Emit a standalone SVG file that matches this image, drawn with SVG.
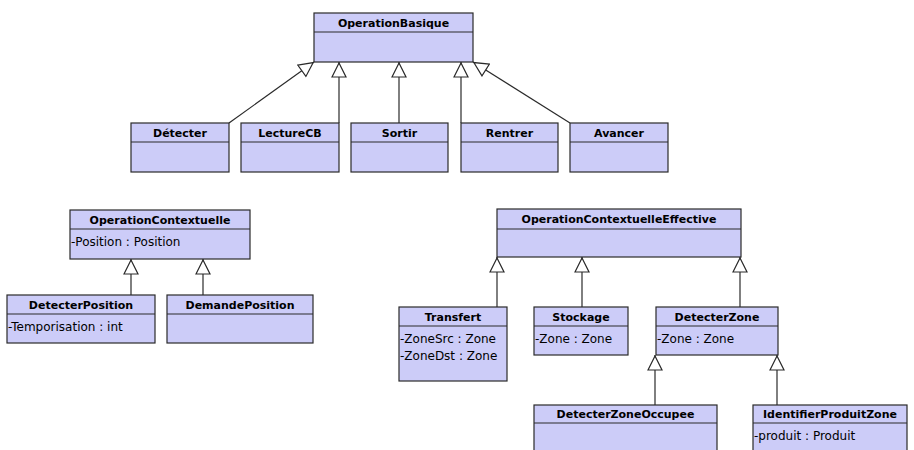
<svg xmlns="http://www.w3.org/2000/svg" width="914" height="450" viewBox="0 0 914 450">
  <style>
    .box { fill: #ccccf8; stroke: #2a2a2a; stroke-width: 1.2; }
    .sep { stroke: #2a2a2a; stroke-width: 1.2; }
    .name { font-family: "DejaVu Sans", Verdana, sans-serif; font-size: 11px; font-weight: bold; fill: #000; text-anchor: middle; }
    .attr { font-family: "DejaVu Sans", Verdana, sans-serif; font-size: 12px; fill: #000; }
    .link { stroke: #2a2a2a; stroke-width: 1.2; fill: none; marker-end: url(#inherit); }
  </style>
  <defs>
    <marker id="inherit" viewBox="0 0 16 16" refX="16" refY="8" markerWidth="16" markerHeight="16" markerUnits="userSpaceOnUse" orient="auto">
      <path d="M1,1 L15,8 L1,15 Z" fill="#fff" stroke="#2a2a2a" stroke-width="1.2"/>
    </marker>
  </defs>
  <rect width="914" height="450" fill="#fff"/>

  <g id="connectors">
    <line class="link" x1="229" y1="123" x2="314" y2="62"/>
    <line class="link" x1="339" y1="123" x2="339" y2="62"/>
    <line class="link" x1="399" y1="123" x2="399" y2="62"/>
    <line class="link" x1="461" y1="123" x2="461" y2="62"/>
    <line class="link" x1="570" y1="123" x2="473" y2="62"/>
    <line class="link" x1="131" y1="295" x2="131" y2="259"/>
    <line class="link" x1="203" y1="295" x2="203" y2="259"/>
    <line class="link" x1="497" y1="307" x2="497" y2="257"/>
    <line class="link" x1="582" y1="307" x2="582" y2="257"/>
    <line class="link" x1="740" y1="307" x2="740" y2="257"/>
    <line class="link" x1="655" y1="405" x2="655" y2="355"/>
    <line class="link" x1="777" y1="405" x2="777" y2="355"/>
  </g>

  <g id="OperationBasique">
    <rect class="box" x="314" y="13" width="159" height="49"/>
    <line class="sep" x1="314" y1="32" x2="473" y2="32"/>
    <text class="name" x="393.5" y="27">OperationBasique</text>
  </g>
  <g id="Detecter">
    <rect class="box" x="131" y="123" width="98" height="49"/>
    <line class="sep" x1="131" y1="142" x2="229" y2="142"/>
    <text class="name" x="180" y="137">Détecter</text>
  </g>
  <g id="LectureCB">
    <rect class="box" x="241" y="123" width="98" height="49"/>
    <line class="sep" x1="241" y1="142" x2="339" y2="142"/>
    <text class="name" x="290" y="137">LectureCB</text>
  </g>
  <g id="Sortir">
    <rect class="box" x="351" y="123" width="97" height="49"/>
    <line class="sep" x1="351" y1="142" x2="448" y2="142"/>
    <text class="name" x="399.5" y="137">Sortir</text>
  </g>
  <g id="Rentrer">
    <rect class="box" x="461" y="123" width="97" height="49"/>
    <line class="sep" x1="461" y1="142" x2="558" y2="142"/>
    <text class="name" x="509.5" y="137">Rentrer</text>
  </g>
  <g id="Avancer">
    <rect class="box" x="570" y="123" width="98" height="49"/>
    <line class="sep" x1="570" y1="142" x2="668" y2="142"/>
    <text class="name" x="619" y="137">Avancer</text>
  </g>

  <g id="OperationContextuelle">
    <rect class="box" x="70" y="210" width="180" height="49"/>
    <line class="sep" x1="70" y1="229" x2="250" y2="229"/>
    <text class="name" x="160" y="224">OperationContextuelle</text>
    <text class="attr" x="71" y="246">-Position : Position</text>
  </g>
  <g id="DetecterPosition">
    <rect class="box" x="7" y="295" width="148" height="48"/>
    <line class="sep" x1="7" y1="314" x2="155" y2="314"/>
    <text class="name" x="81" y="309">DetecterPosition</text>
    <text class="attr" x="8" y="331">-Temporisation : int</text>
  </g>
  <g id="DemandePosition">
    <rect class="box" x="167" y="295" width="146" height="48"/>
    <line class="sep" x1="167" y1="314" x2="313" y2="314"/>
    <text class="name" x="240" y="309">DemandePosition</text>
  </g>

  <g id="OperationContextuelleEffective">
    <rect class="box" x="497" y="209" width="244" height="48"/>
    <line class="sep" x1="497" y1="229" x2="741" y2="229"/>
    <text class="name" x="619" y="223">OperationContextuelleEffective</text>
  </g>
  <g id="Transfert">
    <rect class="box" x="399" y="307" width="108" height="74"/>
    <line class="sep" x1="399" y1="326" x2="507" y2="326"/>
    <text class="name" x="453" y="321">Transfert</text>
    <text class="attr" x="400" y="343">-ZoneSrc : Zone</text>
    <text class="attr" x="400" y="360">-ZoneDst : Zone</text>
  </g>
  <g id="Stockage">
    <rect class="box" x="534" y="307" width="94" height="48"/>
    <line class="sep" x1="534" y1="326" x2="628" y2="326"/>
    <text class="name" x="581" y="321">Stockage</text>
    <text class="attr" x="535" y="343">-Zone : Zone</text>
  </g>
  <g id="DetecterZone">
    <rect class="box" x="656" y="307" width="122" height="48"/>
    <line class="sep" x1="656" y1="326" x2="778" y2="326"/>
    <text class="name" x="717" y="321">DetecterZone</text>
    <text class="attr" x="657" y="343">-Zone : Zone</text>
  </g>
  <g id="DetecterZoneOccupee">
    <rect class="box" x="534" y="405" width="183" height="55"/>
    <line class="sep" x1="534" y1="423" x2="717" y2="423"/>
    <text class="name" x="625.5" y="418">DetecterZoneOccupee</text>
  </g>
  <g id="IdentifierProduitZone">
    <rect class="box" x="753" y="405" width="154" height="55"/>
    <line class="sep" x1="753" y1="423" x2="907" y2="423"/>
    <text class="name" x="830" y="418">IdentifierProduitZone</text>
    <text class="attr" x="754" y="440">-produit : Produit</text>
  </g>
</svg>
